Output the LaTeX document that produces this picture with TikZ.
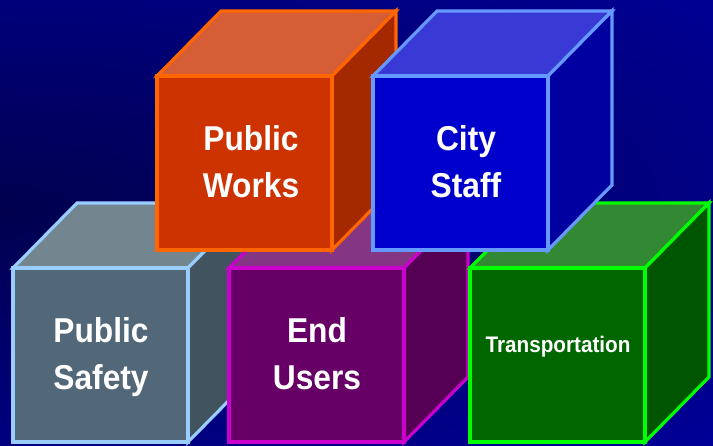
\documentclass[tikz,border=0pt]{standalone}
\usepackage{fontspec}
\setmainfont{Liberation Sans}
\newfontfamily\labelfont[FakeStretch=0.92]{Liberation Sans}
\definecolor{bgblue}{HTML}{0000A8}
\definecolor{bgdark}{HTML}{00004E}
% Public Works
\definecolor{pwfront}{HTML}{CC3300}
\definecolor{pwtop}{HTML}{D55E37}
\definecolor{pwside}{HTML}{A52900}
\definecolor{pwline}{HTML}{FF6600}
% City Staff
\definecolor{csfront}{HTML}{0000CC}
\definecolor{cstop}{HTML}{3939D5}
\definecolor{csside}{HTML}{0000A0}
\definecolor{csline}{HTML}{6699FF}
% Public Safety
\definecolor{psfront}{HTML}{526778}
\definecolor{pstop}{HTML}{738690}
\definecolor{psside}{HTML}{425360}
\definecolor{psline}{HTML}{99CCFF}
% End Users
\definecolor{eufront}{HTML}{660066}
\definecolor{eutop}{HTML}{843584}
\definecolor{euside}{HTML}{550055}
\definecolor{euline}{HTML}{CC00CC}
% Transportation
\definecolor{trfront}{HTML}{006600}
\definecolor{trtop}{HTML}{338833}
\definecolor{trside}{HTML}{005500}
\definecolor{trline}{HTML}{00FF00}
\newcommand{\mycube}[6]{%
  \filldraw[cubeline, draw=#6, fill=#4] (#1,#2) -- ++(64,-65) -- ++(175,0) -- ++(-64,65) -- cycle;
  \filldraw[cubeline, draw=#6, fill=#5] (#1+175,#2) -- ++(64,-65) -- ++(0,174) -- ++(-64,65) -- cycle;
  \filldraw[cubeline, draw=#6, fill=#3] (#1,#2) rectangle ++(175,174);
}
\begin{document}
\begin{tikzpicture}[x=1pt,y=-1pt,
  cubeline/.style={line width=3.2pt, line join=miter},
  biglabel/.style={text=white, anchor=base, inner sep=0pt,
    font=\labelfont\bfseries\fontsize{34.5}{47}\selectfont},
  smalllabel/.style={text=white, anchor=base, inner sep=0pt,
    font=\labelfont\bfseries\fontsize{22.5}{26}\selectfont}]
\useasboundingbox (0,0) rectangle (713,445);
\fill[bgblue] (0,0) rectangle (713,445);
\begin{scope}
  \clip (0,0) rectangle (713,445);
  \shade[inner color=bgdark, outer color=bgblue] (0,210) ellipse (1200 and 420);
\end{scope}
% bottom row
\mycube{13}{268}{psfront}{pstop}{psside}{psline}
\mycube{229}{268}{eufront}{eutop}{euside}{euline}
\mycube{470}{268}{trfront}{trtop}{trside}{trline}
% top row
\mycube{157}{76}{pwfront}{pwtop}{pwside}{pwline}
\mycube{373}{76}{csfront}{cstop}{csside}{csline}
% labels
\node[biglabel] (ps) at (101,342) {\begin{tabular}[t]{@{}c@{}}Public\\Safety\end{tabular}};
\node[biglabel] (eu) at (317,342) {\begin{tabular}[t]{@{}c@{}}End\\Users\end{tabular}};
\node[smalllabel] (tr) at (558,352) {Transportation};
\node[biglabel] (pw) at (251,150) {\begin{tabular}[t]{@{}c@{}}Public\\Works\end{tabular}};
\node[biglabel] (cs) at (466,150) {\begin{tabular}[t]{@{}c@{}}City\\Staff\end{tabular}};
\end{tikzpicture}
\end{document}
